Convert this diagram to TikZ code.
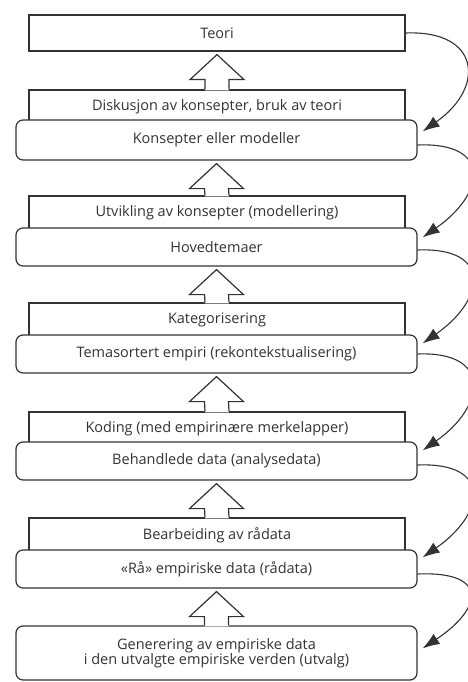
\documentclass[tikz,border=0pt]{standalone}
\usepackage{fontspec}
\setmainfont{Open Sans}
\usetikzlibrary{arrows.meta,calc}
\definecolor{ink}{HTML}{333333}
\begin{document}
\begin{tikzpicture}[x=1pt,y=-1pt,
  every node/.style={font=\fontsize{14.5}{17}\selectfont, text=ink},
  flatbox/.style={draw=ink, line width=1.2pt, fill=white, rectangle, minimum width=376pt, inner sep=0pt, align=center},
  roundbox/.style={draw=ink, line width=1.2pt, fill=white, rectangle, rounded corners=7pt, minimum width=401pt, inner sep=0pt, align=center},
  curvearrow/.style={draw=ink, line width=1.1pt, -{Latex[length=17pt,width=12pt]}},
  blockline/.style={draw=ink, line width=1.2pt, line join=miter}
]
\useasboundingbox (0,0) rectangle (467,682);

% flat boxes
\node[flatbox, minimum height=36pt] (teori) at (217,33) {Teori};
\node[flatbox, minimum height=34pt] (r1) at (217,107) {Diskusjon av konsepter, bruk av teori};
\node[flatbox, minimum height=34pt] (r2) at (217,213) {Utvikling av konsepter (modellering)};
\node[flatbox, minimum height=34pt] (r3) at (217,320) {Kategorisering};
\node[flatbox, minimum height=34pt] (r4) at (217,429) {Koding (med empirinære merkelapper)};
\node[flatbox, minimum height=34pt] (r5) at (217,535) {Bearbeiding av rådata};

% rounded boxes
\node[roundbox, minimum height=40pt] (kons) at (216.5,140) {Konsepter eller modeller};
\node[roundbox, minimum height=38pt] (hoved) at (216.5,247) {Hovedtemaer};
\node[roundbox, minimum height=38pt] (tema) at (216.5,354) {Temasortert empiri (rekontekstualisering)};
\node[roundbox, minimum height=38pt] (beh) at (216.5,461) {Behandlede data (analysedata)};
\node[roundbox, minimum height=38pt] (raa) at (216.5,569) {«Rå» empiriske data (rådata)};
\node[roundbox, minimum height=54pt] (gen) at (216.5,653) {Generering av empiriske data\\[-2pt]i den utvalgte empiriske verden (utvalg)};

% hollow block arrows: #1 upper node, #2 lower node
\newcommand\hollowup[2]{%
  \coordinate (tp) at ($(#1.south)+(0,3)$);
  \fill[white] ($(#2.north)+(-12,1)$) -- ($(tp)+(-12,25)$) -- ($(tp)+(-27,25)$) -- (tp)
     -- ($(tp)+(27,25)$) -- ($(tp)+(12,25)$) -- ($(#2.north)+(12,1)$) -- cycle;
  \draw[blockline] ($(#2.north)+(-12,0)$) -- ($(tp)+(-12,25)$) -- ($(tp)+(-27,25)$) -- (tp)
     -- ($(tp)+(27,25)$) -- ($(tp)+(12,25)$) -- ($(#2.north)+(12,0)$);
}
\hollowup{teori}{r1}
\hollowup{kons}{r2}
\hollowup{hoved}{r3}
\hollowup{tema}{r4}
\hollowup{beh}{r5}
\hollowup{raa}{gen}

% curved arrows
\draw[curvearrow] (teori.east) .. controls +(75,-3) and +(63,-44) .. ($(kons.north east)+(5,12)$);
\draw[curvearrow] ($(kons.east)+(0,5)$) .. controls +(75,-3) and +(63,-44) .. ($(hoved.north east)+(5,10)$);
\draw[curvearrow] ($(hoved.east)+(0,3)$) .. controls +(75,-3) and +(63,-44) .. ($(tema.north east)+(5,9)$);
\draw[curvearrow] ($(tema.east)+(0,0)$) .. controls +(75,-3) and +(63,-44) .. ($(beh.north east)+(5,9)$);
\draw[curvearrow] ($(beh.east)+(0,4)$) .. controls +(75,-3) and +(63,-44) .. ($(raa.north east)+(5,8)$);
\draw[curvearrow] ($(raa.east)+(0,5)$) .. controls +(72,-3) and +(60,-40) .. ($(gen.north east)+(5,23)$);
\end{tikzpicture}
\end{document}
